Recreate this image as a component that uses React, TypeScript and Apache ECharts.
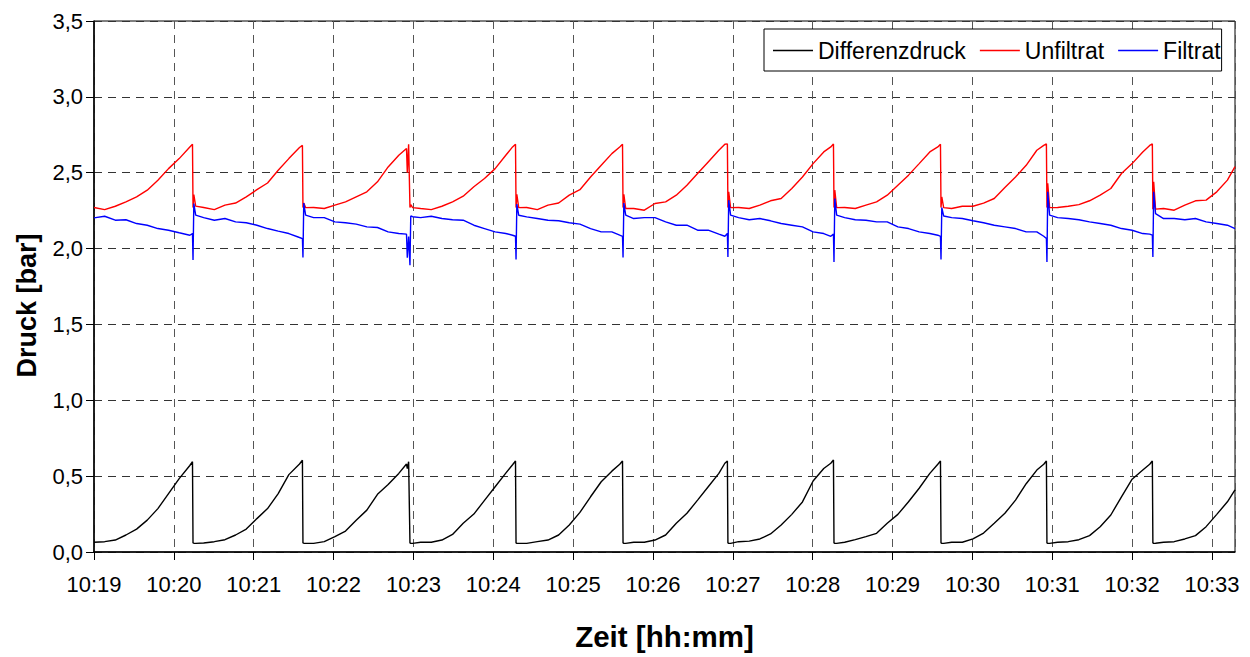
import React, { useEffect, useRef } from "react";
import * as echarts from "echarts";

// time in seconds after 10:19:00
const T = [
  0, 8, 16, 24, 32, 40, 48, 56, 64, 72, 74.0,
  74.4, 75.0, 76.4,
  82.4, 90.4, 98.4, 106.4, 114.4, 122.4, 130.4, 138.4, 146.4, 154.4, 156.6,
  157.0, 157.6, 159.0,
  165, 173, 181, 189, 197, 205, 213, 221, 229, 234.8, 235.4, 236.4,
  237.4, 238.0, 239.4,
  245.4, 253.4, 261.4, 269.4, 277.4, 285.4, 293.4, 301.4, 309.4, 314.5, 316.7,
  317.1, 317.7, 319.1,
  325.1, 333.1, 341.1, 349.1, 357.1, 365.1, 373.1, 381.1, 389.1, 395.0, 397.1,
  397.5, 398.1, 399.5,
  405.5, 413.5, 421.5, 429.5, 437.5, 445.5, 453.5, 461.5, 469.5, 474.0, 475.9,
  476.3, 476.9, 478.3,
  484.3, 492.3, 500.3, 508.3, 516.3, 524.3, 532.3, 540.3, 548.3, 553.6, 555.6,
  556.0, 556.6, 558.0,
  564, 572, 580, 588, 596, 604, 612, 620, 628, 634, 636.0,
  636.4, 637.0, 638.4,
  644.4, 652.4, 660.4, 668.4, 676.4, 684.4, 692.4, 700.4, 708.4, 713.6, 715.6,
  716.0, 716.6, 718.0,
  724, 732, 740, 748, 756, 764, 772, 780, 788, 793.2, 795.2,
  795.6, 796.2, 797.6,
  803.6, 811.6, 819.6, 827.6, 835.6, 843.6, 851.6, 857.3,
];

const DIFFERENZDRUCK = [
  0.064, 0.068, 0.079, 0.112, 0.151, 0.21, 0.286, 0.385, 0.484, 0.57, 0.595,
  0.06, 0.058, 0.057,
  0.059, 0.068, 0.081, 0.112, 0.151, 0.22, 0.286, 0.385, 0.51, 0.58, 0.605,
  0.06, 0.058, 0.057,
  0.057, 0.068, 0.101, 0.138, 0.21, 0.276, 0.38, 0.445, 0.518, 0.58, 0.55, 0.595,
  0.06, 0.057, 0.057,
  0.064, 0.064, 0.079, 0.116, 0.189, 0.25, 0.34, 0.43, 0.52, 0.575, 0.6,
  0.06, 0.057, 0.057,
  0.057, 0.068, 0.079, 0.112, 0.178, 0.261, 0.364, 0.463, 0.533, 0.578, 0.6,
  0.06, 0.057, 0.057,
  0.064, 0.064, 0.079, 0.112, 0.189, 0.255, 0.342, 0.43, 0.518, 0.585, 0.6,
  0.06, 0.057, 0.057,
  0.068, 0.072, 0.086, 0.119, 0.178, 0.248, 0.33, 0.468, 0.55, 0.585, 0.606,
  0.06, 0.057, 0.057,
  0.064, 0.082, 0.101, 0.123, 0.189, 0.248, 0.331, 0.42, 0.518, 0.578, 0.6,
  0.06, 0.057, 0.057,
  0.064, 0.064, 0.086, 0.125, 0.189, 0.255, 0.342, 0.45, 0.54, 0.578, 0.6,
  0.06, 0.057, 0.057,
  0.064, 0.068, 0.081, 0.108, 0.167, 0.244, 0.364, 0.48, 0.54, 0.578, 0.6,
  0.06, 0.057, 0.058,
  0.064, 0.068, 0.086, 0.108, 0.167, 0.248, 0.331, 0.41,
];

const UNFILTRAT = [
  2.271, 2.257, 2.279, 2.308, 2.341, 2.385, 2.45, 2.527, 2.593, 2.67, 2.688,
  2.27, 2.356, 2.28,
  2.271, 2.257, 2.286, 2.3, 2.341, 2.388, 2.432, 2.516, 2.593, 2.666, 2.68,
  2.27, 2.3, 2.27,
  2.271, 2.264, 2.286, 2.308, 2.341, 2.374, 2.44, 2.538, 2.615, 2.66, 2.5, 2.688,
  2.27, 2.29, 2.27,
  2.264, 2.257, 2.279, 2.308, 2.345, 2.407, 2.462, 2.527, 2.615, 2.67, 2.688,
  2.27, 2.358, 2.27,
  2.271, 2.257, 2.286, 2.3, 2.352, 2.388, 2.472, 2.549, 2.626, 2.67, 2.688,
  2.27, 2.358, 2.264,
  2.264, 2.253, 2.297, 2.308, 2.352, 2.418, 2.495, 2.571, 2.648, 2.688, 2.69,
  2.27, 2.374, 2.27,
  2.271, 2.264, 2.286, 2.315, 2.33, 2.396, 2.472, 2.56, 2.637, 2.67, 2.69,
  2.27, 2.385, 2.27,
  2.271, 2.264, 2.286, 2.308, 2.352, 2.418, 2.484, 2.56, 2.637, 2.67, 2.688,
  2.27, 2.34, 2.27,
  2.264, 2.279, 2.279, 2.3, 2.33, 2.403, 2.472, 2.549, 2.648, 2.68, 2.69,
  2.27, 2.43, 2.27,
  2.271, 2.279, 2.29, 2.315, 2.352, 2.396, 2.495, 2.56, 2.637, 2.68, 2.69,
  2.26, 2.44, 2.26,
  2.264, 2.253, 2.286, 2.315, 2.319, 2.374, 2.451, 2.54,
];

const FILTRAT = [
  2.202, 2.213, 2.187, 2.19, 2.165, 2.154, 2.132, 2.121, 2.104, 2.088, 2.099,
  1.924, 2.297, 2.22,
  2.204, 2.187, 2.198, 2.176, 2.17, 2.154, 2.132, 2.115, 2.099, 2.073, 2.066,
  1.941, 2.3, 2.22,
  2.204, 2.204, 2.176, 2.17, 2.161, 2.143, 2.139, 2.11, 2.099, 2.095, 1.94, 2.08,
  1.89, 2.215, 2.21,
  2.204, 2.213, 2.198, 2.19, 2.187, 2.154, 2.132, 2.11, 2.099, 2.088, 2.081,
  1.928, 2.293, 2.22,
  2.209, 2.198, 2.187, 2.183, 2.17, 2.161, 2.132, 2.11, 2.11, 2.088, 2.081,
  1.941, 2.3, 2.22,
  2.198, 2.204, 2.204, 2.176, 2.154, 2.154, 2.121, 2.121, 2.095, 2.081, 2.099,
  1.945, 2.319, 2.22,
  2.204, 2.19, 2.198, 2.183, 2.165, 2.154, 2.143, 2.11, 2.099, 2.081, 2.095,
  1.912, 2.33, 2.22,
  2.204, 2.19, 2.187, 2.176, 2.176, 2.143, 2.132, 2.11, 2.099, 2.088, 2.081,
  1.928, 2.27, 2.215,
  2.204, 2.198, 2.183, 2.17, 2.154, 2.143, 2.132, 2.11, 2.11, 2.081, 2.066,
  1.912, 2.374, 2.22,
  2.204, 2.198, 2.19, 2.176, 2.165, 2.154, 2.132, 2.121, 2.099, 2.095, 2.088,
  1.945, 2.374, 2.23,
  2.198, 2.198, 2.19, 2.198, 2.176, 2.165, 2.154, 2.132,
];

const X_TICK_LABELS = [
  "10:19", "10:20", "10:21", "10:22", "10:23", "10:24", "10:25", "10:26",
  "10:27", "10:28", "10:29", "10:30", "10:31", "10:32", "10:33",
];
const Y_TICK_LABELS = ["0,0", "0,5", "1,0", "1,5", "2,0", "2,5", "3,0", "3,5"];

const SERIES_NAMES = ["Differenzdruck", "Unfiltrat", "Filtrat"];
const SERIES_COLORS = ["#000000", "#ff0000", "#0000ff"];

const FONT = "'Liberation Sans', Arial, Helvetica, sans-serif";

export default function App() {
  const ref = useRef<HTMLDivElement>(null);

  useEffect(() => {
    if (!ref.current) return;
    const chart = echarts.init(ref.current, null, { renderer: "svg" });
    const values = [DIFFERENZDRUCK, UNFILTRAT, FILTRAT];
    chart.setOption({
      animation: false,
      backgroundColor: "#ffffff",
      textStyle: { fontFamily: FONT },
      grid: {
        left: 94,
        right: 15,
        top: 21,
        bottom: 105,
        show: true,
        borderColor: "#000",
        borderWidth: 1,
        backgroundColor: "transparent",
      },
      legend: {
        left: 764,
        top: 29,
        orient: "horizontal",
        icon: "rect",
        itemWidth: 40,
        itemHeight: 1.5,
        itemGap: 14,
        padding: [10, 1, 9, 9],
        backgroundColor: "#ffffff",
        borderColor: "#000",
        borderWidth: 1,
        borderRadius: 0,
        textStyle: { fontFamily: FONT, fontSize: 23, color: "#000" },
        data: SERIES_NAMES,
      },
      xAxis: {
        type: "value",
        min: 0,
        max: 857.3,
        interval: 60,
        name: "Zeit [hh:mm]",
        nameLocation: "middle",
        nameGap: 69,
        nameTextStyle: { fontFamily: FONT, fontSize: 29.5, fontWeight: "bold", color: "#000" },
        axisLine: { show: true, lineStyle: { color: "#000", width: 1.5 } },
        axisTick: { show: true, length: 8, inside: false, lineStyle: { color: "#000", width: 1 } },
        axisLabel: {
          show: true,
          margin: 21,
          fontSize: 22,
          color: "#000",
          fontFamily: FONT,
          showMaxLabel: false,
          formatter: (v: number) => {
            const i = Math.round(v / 60);
            if (Math.abs(v - i * 60) > 1e-6) return "";
            return X_TICK_LABELS[i] ?? "";
          },
        },
        splitLine: {
          show: true,
          lineStyle: { color: "#555", width: 1, type: [8, 6] },
        },
      },
      yAxis: {
        type: "value",
        min: 0,
        max: 3.5,
        interval: 0.5,
        name: "Druck [bar]",
        nameLocation: "middle",
        nameGap: 54,
        nameTextStyle: {
          fontFamily: FONT,
          fontSize: 27,
          fontWeight: "bold",
          color: "#000",
          padding: [0, 38, 0, 0],
        },
        axisLine: { show: true, lineStyle: { color: "#000", width: 1.5 } },
        axisTick: { show: true, length: 8, inside: false, lineStyle: { color: "#000", width: 1 } },
        axisLabel: {
          show: true,
          margin: 11,
          fontSize: 22,
          color: "#000",
          fontFamily: FONT,
          formatter: (v: number) => Y_TICK_LABELS[Math.round(v / 0.5)] ?? "",
        },
        splitLine: {
          show: true,
          lineStyle: { color: "#333", width: 1, type: [8, 6] },
        },
      },
      series: SERIES_NAMES.map((name, k) => ({
        name,
        type: "line",
        data: T.map((t, i) => [t, values[k][i]]),
        symbol: "none",
        showSymbol: false,
        smooth: false,
        lineStyle: { color: SERIES_COLORS[k], width: 1.4 },
        itemStyle: { color: SERIES_COLORS[k] },
        emphasis: { disabled: true },
        z: 2 + k,
      })),
    });
    return () => chart.dispose();
  }, []);

  return (
    <div
      ref={ref}
      style={{ position: "fixed", left: 0, top: 0, width: 1250, height: 657, background: "#fff" }}
    />
  );
}
